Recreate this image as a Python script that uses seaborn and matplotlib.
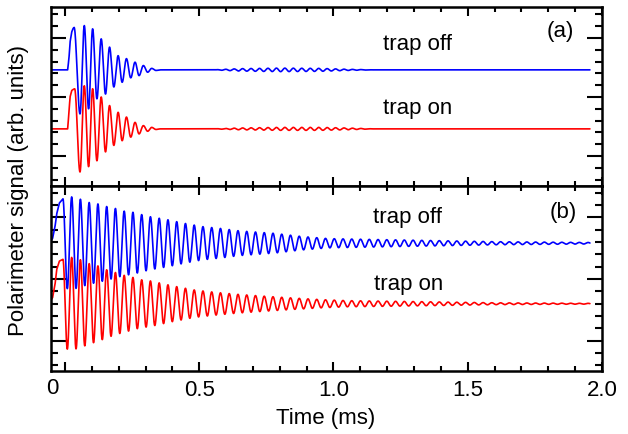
import numpy as np
import pandas as pd
import matplotlib
matplotlib.use("Agg")
import matplotlib.pyplot as plt
from matplotlib.ticker import MultipleLocator, FixedLocator, FixedFormatter
import seaborn as sns

# ---------------------------------------------------------------- data ----
X_MIN, X_MAX = -0.052, 2.0            # axis window (ms)
T_START, T_END = -0.052, 1.955        # recorded time span (ms)

# (a) fast decay -----------------------------------------------------------
base_a_off, base_a_on = 0.46, -0.54
# signal onset (relative to baseline)
onset_a_off_t = [-0.052, 0.010, 0.015, 0.019, 0.025, 0.030, 0.034]
onset_a_off_v = [0.0, 0.0, 0.20, 0.47, 0.64, 0.70, 0.72]
onset_a_on_t = [-0.052, 0.010, 0.013, 0.019, 0.025, 0.031, 0.036]
onset_a_on_v = [0.0, 0.0, 0.17, 0.54, 0.65, 0.67, 0.68]
# successive extrema of the ringing
ext_a_t = [0.056, 0.072, 0.088, 0.103, 0.119, 0.135, 0.151, 0.166, 0.182,
           0.198, 0.213, 0.229, 0.245, 0.261, 0.276, 0.292, 0.308, 0.323,
           0.339, 0.355]
ext_a_off_v = [-0.746, 0.75, -0.66, 0.695, -0.49, 0.525, -0.41, 0.385, -0.29,
               0.24, -0.21, 0.19, -0.135, 0.13, -0.097, 0.073, -0.04, 0.025,
               -0.01, 0.0]
ext_a_on_v = [-0.73, 0.73, -0.64, 0.68, -0.54, 0.54, -0.39, 0.395, -0.28,
              0.28, -0.20, 0.20, -0.14, 0.11, -0.085, 0.055, -0.04, 0.025,
              -0.01, 0.0]
# weak late beat
env_a_t = [0.355, 0.55, 0.65, 0.80, 0.95, 1.05, 1.15, 2.0]
env_a_off = [0.0, 0.0, 0.02, 0.03, 0.025, 0.01, 0.0, 0.0]
env_a_on = [0.0, 0.0, 0.015, 0.025, 0.025, 0.015, 0.0, 0.0]
period_a, peak_a = 0.0315, 0.0

# (b) slow decay -----------------------------------------------------------
base_b_off, base_b_on = 0.58, -0.40
onset_b_t = [-0.052, -0.046, -0.037, -0.031, -0.021, -0.0076]
onset_b_off_v = [0.04, 0.08, 0.27, 0.47, 0.65, 0.72]
onset_b_on_v = [0.06, 0.10, 0.31, 0.55, 0.69, 0.72]
env_b_off_t = [-0.0076, 0.025, 0.06, 0.09, 0.125, 0.155, 0.185, 0.22, 0.25,
               0.28, 0.317, 0.383, 0.448, 0.511, 0.578, 0.65, 0.78, 0.88,
               0.98, 1.10, 1.35, 1.60, 2.0]
env_b_off = [0.72, 0.75, 0.71, 0.66, 0.635, 0.595, 0.567, 0.52, 0.505,
             0.47, 0.43, 0.38, 0.32, 0.27, 0.24, 0.20, 0.16, 0.11,
             0.075, 0.065, 0.045, 0.025, 0.01]
env_b_on_t = [-0.0076, 0.025, 0.06, 0.09, 0.125, 0.155, 0.185, 0.22, 0.25,
              0.28, 0.317, 0.40, 0.485, 0.57, 0.65, 0.75, 0.84, 0.96,
              1.05, 1.30, 1.60, 2.0]
env_b_on = [0.72, 0.75, 0.71, 0.65, 0.61, 0.55, 0.51, 0.46, 0.43,
            0.39, 0.37, 0.29, 0.22, 0.18, 0.15, 0.12, 0.095, 0.065,
            0.05, 0.035, 0.015, 0.005]
period_b, peak_b = 0.0326, 0.025

x_ticks = [0.0, 0.5, 1.0, 1.5, 2.0]
x_labels = ["", "0.5", "1.0", "1.5", "2.0"]


# ------------------------------------------------------------- helpers ----
def through_extrema(t, kt, kv):
    """Smooth half-cosine arcs joining consecutive extrema."""
    kt = np.asarray(kt, float)
    kv = np.asarray(kv, float)
    i = np.clip(np.searchsorted(kt, t, side="right") - 1, 0, len(kt) - 2)
    s = np.clip((t - kt[i]) / (kt[i + 1] - kt[i]), 0, 1)
    return kv[i] + (kv[i + 1] - kv[i]) * (1 - np.cos(np.pi * s)) / 2


def trace(t, base, on_t, on_v, ext_t, ext_v, env_t, env_v, t_pk, period):
    y = np.zeros_like(t)
    first = t <= on_t[-1]
    y[first] = np.interp(t[first], on_t, on_v)
    end = on_t[-1]
    if ext_t:
        kt = [on_t[-1]] + list(ext_t)
        kv = [on_v[-1]] + list(ext_v)
        mid = (t > on_t[-1]) & (t <= kt[-1])
        y[mid] = through_extrema(t[mid], kt, kv)
        end = kt[-1]
    late = t > end
    y[late] = (np.interp(t[late], env_t, env_v, left=0, right=0)
               * np.cos(2 * np.pi * (t[late] - t_pk) / period))
    return base + y


t = np.linspace(T_START, T_END, 8001)
df_a = pd.DataFrame({
    "t": np.r_[t, t],
    "y": np.r_[trace(t, base_a_off, onset_a_off_t, onset_a_off_v, ext_a_t,
                     ext_a_off_v, env_a_t, env_a_off, peak_a, period_a),
               trace(t, base_a_on, onset_a_on_t, onset_a_on_v, ext_a_t,
                     ext_a_on_v, env_a_t, env_a_on, peak_a, period_a)],
    "state": ["trap off"] * len(t) + ["trap on"] * len(t),
})
df_b = pd.DataFrame({
    "t": np.r_[t, t],
    "y": np.r_[trace(t, base_b_off, onset_b_t, onset_b_off_v, [], [],
                     env_b_off_t, env_b_off, peak_b, period_b),
               trace(t, base_b_on, onset_b_t, onset_b_on_v, [], [],
                     env_b_on_t, env_b_on, peak_b, period_b)],
    "state": ["trap off"] * len(t) + ["trap on"] * len(t),
})

# ---------------------------------------------------------------- plot ----
sns.set_theme(style="ticks")
plt.rcParams["font.family"] = ["Liberation Sans", "DejaVu Sans"]
plt.rcParams["axes.linewidth"] = 1.8
plt.rcParams["text.color"] = "black"
plt.rcParams["axes.labelcolor"] = "black"
plt.rcParams["xtick.color"] = "black"
plt.rcParams["ytick.color"] = "black"

fig = plt.figure(figsize=(6.28, 4.35), dpi=100)
ax_a = fig.add_axes([0.0812, 0.5701, 0.8774, 0.4115])
ax_b = fig.add_axes([0.0812, 0.1448, 0.8774, 0.4253])
palette = {"trap off": "#0000ff", "trap on": "#ff0000"}

for ax, df, ylim in ((ax_a, df_a, (-1.508, 1.525)),
                     (ax_b, df_b, (-1.49, 1.507))):
    sns.lineplot(data=df, x="t", y="y", hue="state", palette=palette,
                 estimator=None, sort=False, lw=1.2, legend=False, ax=ax)
    ax.set_xlim(X_MIN, X_MAX)
    ax.set_ylim(*ylim)
    ax.set_xlabel("")
    ax.set_ylabel("")
    ax.xaxis.set_major_locator(FixedLocator(x_ticks))
    ax.xaxis.set_minor_locator(MultipleLocator(0.1))
    ax.yaxis.set_major_locator(MultipleLocator(1.0))
    ax.yaxis.set_minor_locator(MultipleLocator(0.2))
    ax.tick_params(axis="both", which="both", direction="in",
                   top=True, bottom=True, left=True, right=True,
                   colors="black", labelcolor="black", width=1.5)
    ax.tick_params(axis="x", which="major", length=6.5, pad=6,
                   labelsize=16)
    ax.tick_params(axis="x", which="minor", length=3.6)
    ax.tick_params(axis="y", which="major", length=11)
    ax.tick_params(axis="y", which="minor", length=5)
    ax.set_yticklabels([])
    for sp in ax.spines.values():
        sp.set_color("black")
        sp.set_linewidth(1.8)

ax_a.set_xticklabels([])
ax_b.xaxis.set_major_formatter(FixedFormatter(x_labels))

# zero label sits at the left edge of the frame
ax_b.annotate("0", xy=(-0.0485, 0), xycoords=("data", "axes fraction"),
              xytext=(0, -4.5), textcoords="offset points",
              ha="center", va="top", fontsize=16, color="black")

txt = dict(ha="center", va="center", fontsize=16, color="black")
ax_a.text(1.313, 0.90, "trap off", **txt)
ax_a.text(1.313, -0.17, "trap on", **txt)
ax_a.text(1.843, 1.12, "(a)", **txt)
ax_b.text(1.276, 1.02, "trap off", **txt)
ax_b.text(1.280, -0.08, "trap on", **txt)
ax_b.text(1.855, 1.10, "(b)", **txt)

fig.text(0.0287, 0.563, "Polarimeter signal (arb. units)", rotation=90,
         ha="center", va="center", fontsize=16, color="black")
fig.text(0.519, 0.039, "Time (ms)", ha="center", va="center", fontsize=16,
         color="black")

fig.savefig("out.png", dpi=100)
